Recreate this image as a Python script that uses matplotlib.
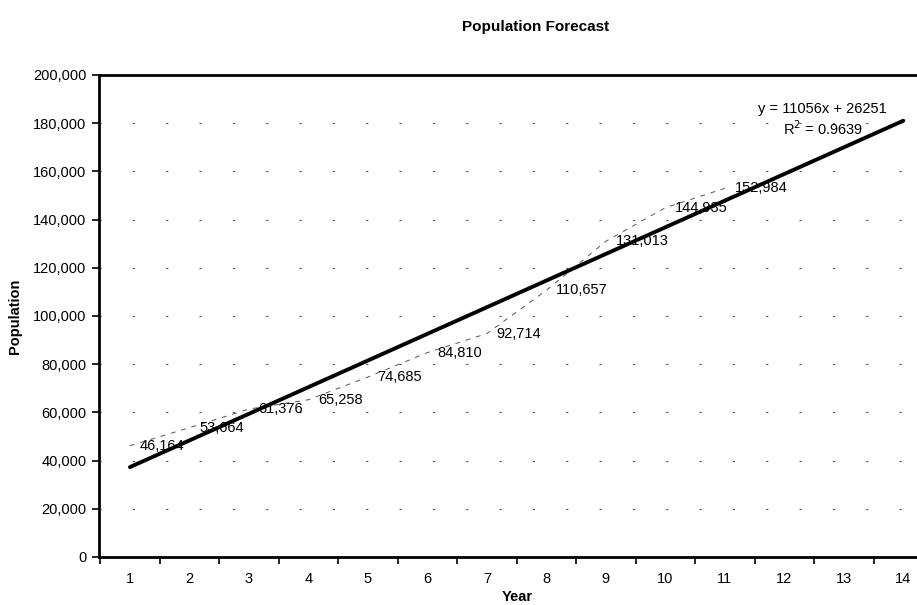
import matplotlib
matplotlib.use("Agg")
import matplotlib.pyplot as plt
import numpy as np

years = list(range(1, 12))
population = [46164, 53664, 61376, 65258, 74685, 84810, 92714, 110657, 131013, 144935, 152984]
labels = ["46,164", "53,664", "61,376", "65,258", "74,685", "84,810", "92,714",
          "110,657", "131,013", "144,935", "152,984"]
x_ticks = list(range(1, 15))
y_ticks = list(range(0, 200001, 20000))
slope, intercept = 11056, 26251
trend_x = [1, 14]

plt.rcParams['font.family'] = ['Liberation Sans', 'DejaVu Sans']

fig = plt.figure(figsize=(9.17, 6.05), dpi=100)
ax = fig.add_axes([99/917, 1-557/605, 1-99/917, (557-75)/605])

ax.set_xlim(0.48, 14.23)
ax.set_ylim(0, 200000)

# gridlines
for yv in y_ticks[1:-1]:
    ax.axhline(yv, color='#555555', lw=0.8, ls=(0, (2, 28)), zorder=1)

# data line (thin dashed)
ax.plot(years, population, color='#555555', lw=0.7, ls=(0, (5, 6)), zorder=2)

# trendline
tx = np.array(trend_x)
ax.plot(tx, slope*tx + intercept, color='black', lw=2.8, solid_capstyle='round', zorder=3)

# data labels
for xv, yv, lab in zip(years, population, labels):
    ax.annotate(lab, (xv, yv), xytext=(7, 0), textcoords='offset points',
                ha='left', va='center', fontsize=10.5, color='black', zorder=4)

# equation
fig.text(822/917, 1-109/605, 'y = 11056x + 26251', ha='center', va='center', fontsize=10.5)
fig.text(823/917, 1-129/605, r'R$^2$ = 0.9639', ha='center', va='center', fontsize=10.5)

# ticks
ax.set_yticks(y_ticks)
ax.set_yticklabels([f"{v:,}" for v in y_ticks], fontsize=10.5)
ax.set_xticks(x_ticks)
ax.set_xticklabels([str(v) for v in x_ticks], fontsize=10.5)
ax.tick_params(axis='x', which='major', length=0, pad=11)
ax.set_xticks([v + 0.5 for v in x_ticks[:-1]] + [0.5], minor=True)
ax.tick_params(axis='x', which='minor', length=5, width=1.2, direction='out')
ax.tick_params(axis='y', length=5, width=1.2, direction='out', pad=4)

for s in ['left', 'bottom', 'top']:
    ax.spines[s].set_linewidth(2)
    ax.spines[s].set_color('black')
ax.spines['right'].set_visible(False)

ax.set_xlabel('Year', fontsize=10.5, fontweight='bold')
ax.xaxis.set_label_coords((517 - 99) / (917 - 99), -33 / 482)
ax.set_ylabel('Population', fontsize=10.5, fontweight='bold', labelpad=8)

fig.text(536/917, 1-27/605, 'Population Forecast', ha='center', va='center',
         fontsize=11, fontweight='bold')

fig.savefig('out.png', dpi=100)
